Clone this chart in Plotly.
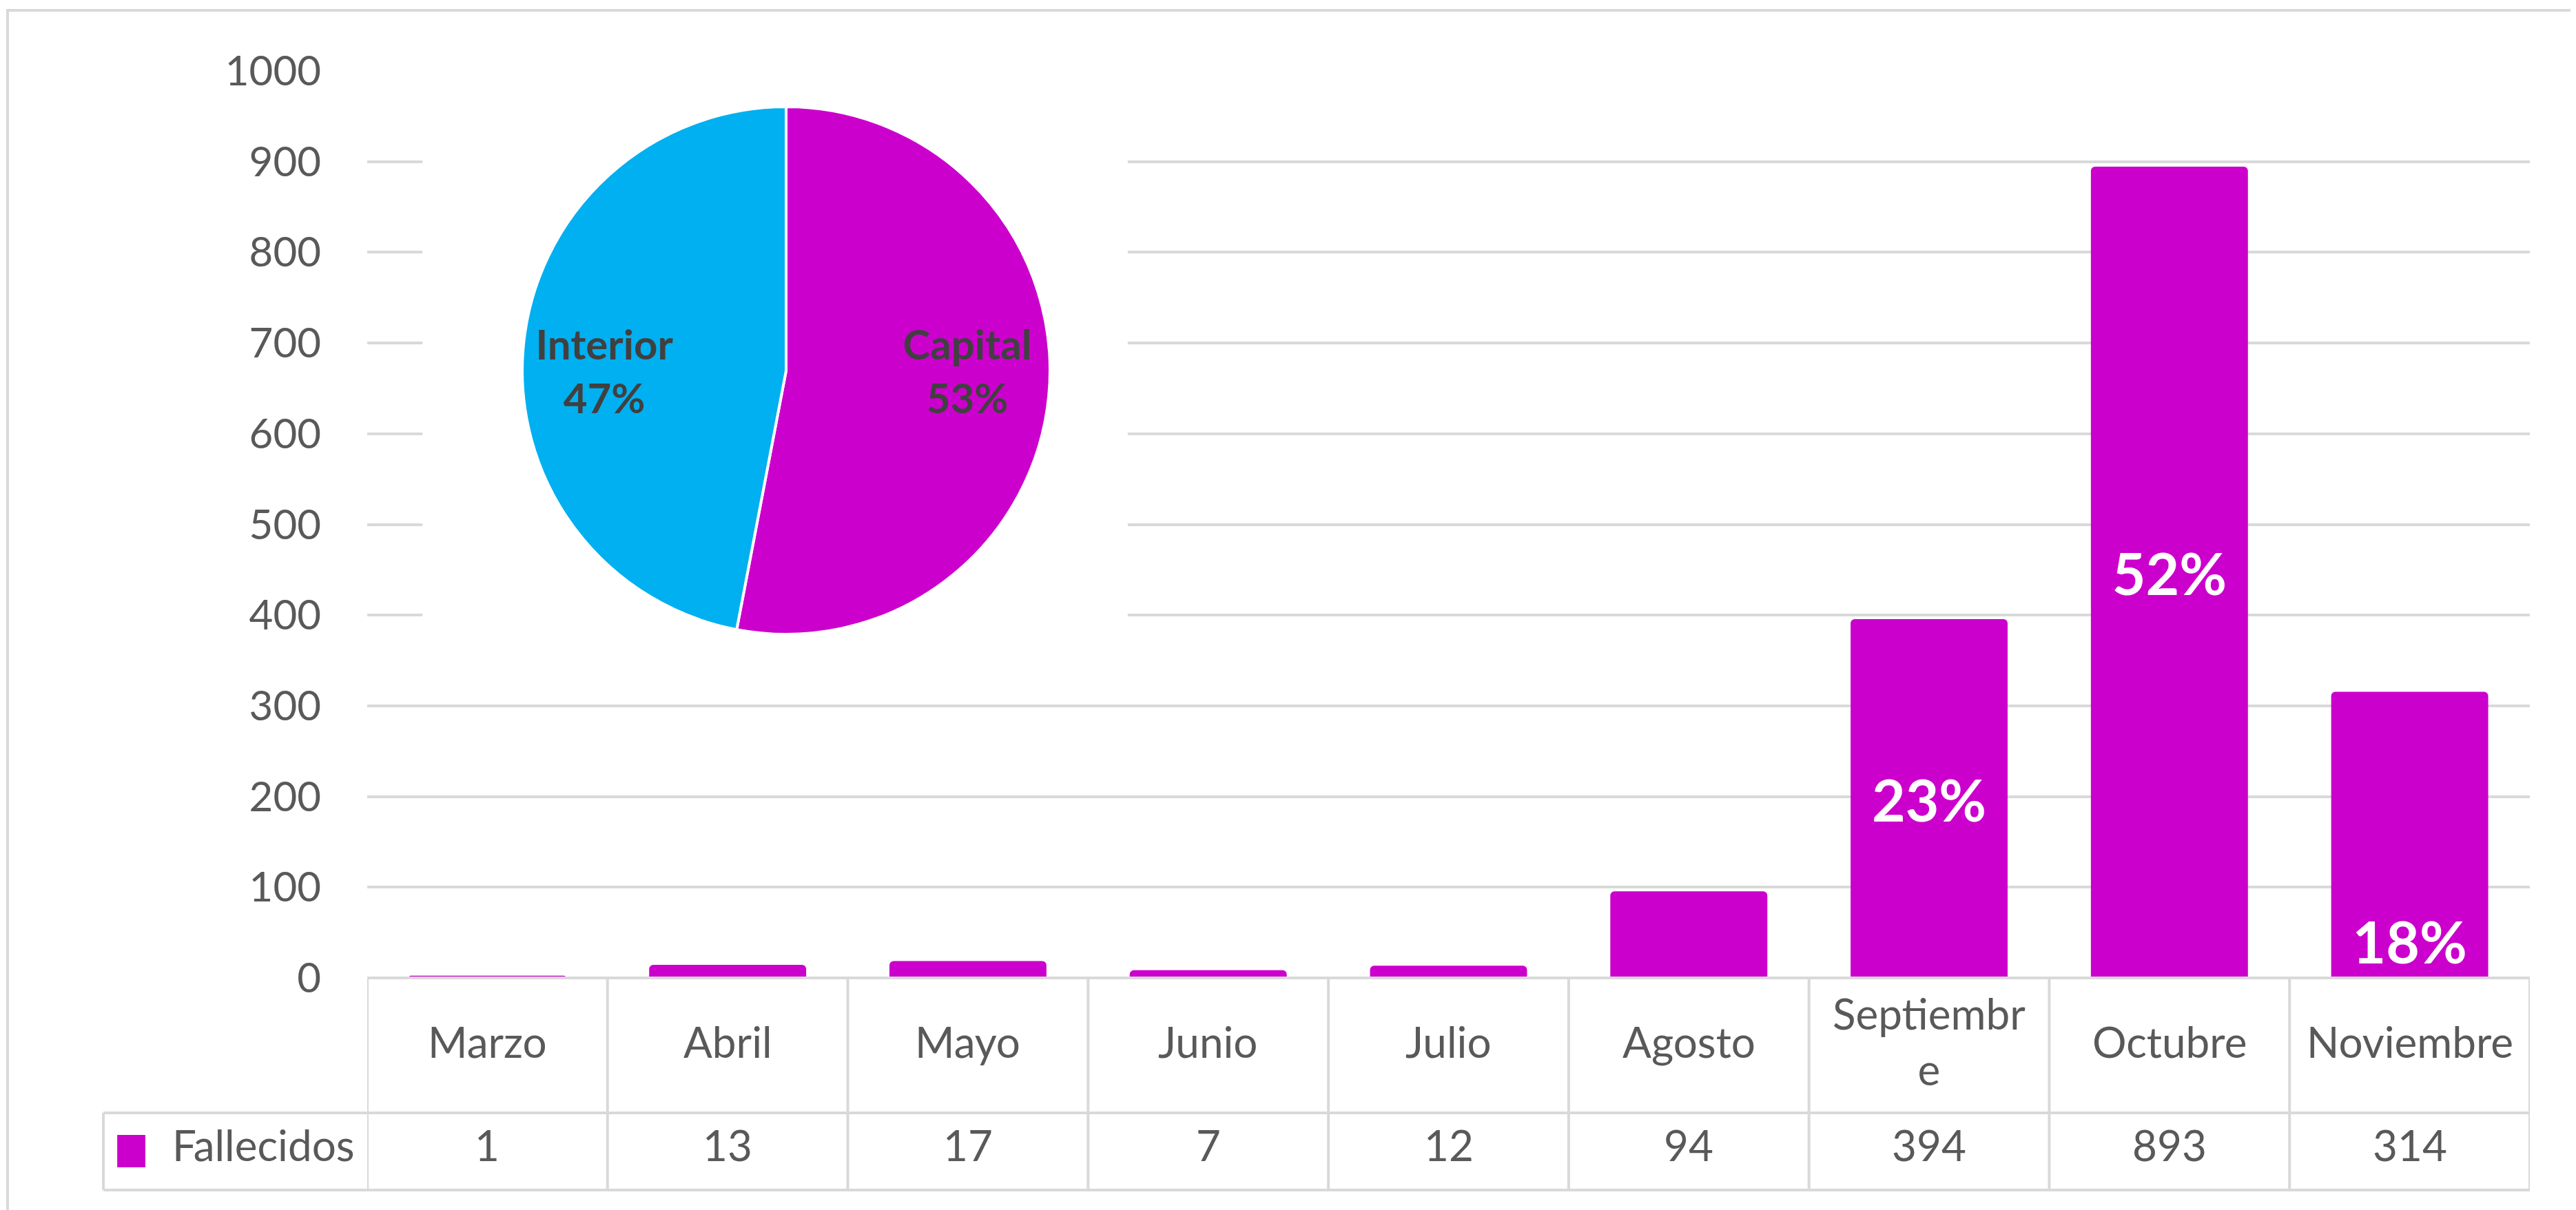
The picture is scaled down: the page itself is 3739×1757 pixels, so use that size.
import plotly.graph_objects as go

# ---- data ----
months = ["Marzo", "Abril", "Mayo", "Junio", "Julio", "Agosto", "Septiembre", "Octubre", "Noviembre"]
month_labels = ["Marzo", "Abril", "Mayo", "Junio", "Julio", "Agosto", "Septiembr<br>e", "Octubre", "Noviembre"]
fallecidos = [1, 13, 17, 7, 12, 94, 394, 893, 314]
pct_labels = ["", "", "", "", "", "", "23%", "52%", "18%"]
pct_at_base = [False, False, False, False, False, False, False, False, True]
series_name = "Fallecidos"

pie_labels = ["Capital", "Interior"]
pie_values = [53, 47]

y_ticks = [0, 100, 200, 300, 400, 500, 600, 700, 800, 900, 1000]

# ---- styles ----
MAG = "#CC00CC"
CYAN = "#00B0F0"
GRID = "#D9D9D9"
TXT = "#595959"
FONT = "Lato"
W, H = 3739, 1757
L, R, T, B = 525, 75, 95, 345
PIE_DOMAIN = dict(x=[0.0717, 0.3157], y=[0.3789, 0.9605])

fig = go.Figure()

text_mid = [t if not b else "" for t, b in zip(pct_labels, pct_at_base)]
text_base = [t if b else "" for t, b in zip(pct_labels, pct_at_base)]

fig.add_trace(go.Bar(
    x=months, y=fallecidos, name=series_name,
    marker=dict(color=MAG, line=dict(color=MAG, width=4), cornerradius=4),
    text=text_mid, textposition="inside", insidetextanchor="middle",
    textangle=0,
    textfont=dict(family=FONT, size=84, color="white", weight="bold"),
    showlegend=False, hoverinfo="x+y",
))
fig.add_trace(go.Bar(
    x=months, y=fallecidos, name=series_name,
    marker=dict(color="rgba(0,0,0,0)", line=dict(width=0)),
    text=text_base, textposition="inside", insidetextanchor="start",
    textangle=0,
    textfont=dict(family=FONT, size=84, color="white", weight="bold"),
    showlegend=False, hoverinfo="skip",
))

# pie (visual slices)
fig.add_trace(go.Pie(
    labels=pie_labels, values=pie_values,
    sort=False, direction="clockwise", rotation=0,
    marker=dict(colors=[MAG, CYAN], line=dict(color="white", width=4)),
    textinfo="none",
    domain=PIE_DOMAIN,
    showlegend=False,
))
# pie labels carried by a transparent ring so they sit further out, as in the original
fig.add_trace(go.Pie(
    labels=pie_labels, values=pie_values,
    sort=False, direction="clockwise", rotation=0, hole=0.4,
    marker=dict(colors=["rgba(0,0,0,0)", "rgba(0,0,0,0)"], line=dict(width=0)),
    textinfo="label+percent", texttemplate="%{label}<br>%{percent:.0%}",
    textposition="inside", insidetextorientation="horizontal",
    textfont=dict(family=FONT, size=60, color="#404040", weight="bold"),
    domain=PIE_DOMAIN,
    showlegend=False, hoverinfo="skip",
))

fig.update_layout(
    width=W, height=H,
    margin=dict(l=L, r=R, t=T, b=B),
    paper_bgcolor="white", plot_bgcolor="white",
    barmode="overlay", bargap=0.358,
    font=dict(family=FONT, size=62, color=TXT),
    xaxis=dict(range=[-0.5, len(months) - 0.5], showticklabels=False,
               showgrid=False, zeroline=False, showline=False, ticks=""),
    yaxis=dict(range=[0, 1000], tickvals=y_ticks, showgrid=True,
               gridcolor=GRID, gridwidth=4, zeroline=False, showline=False,
               ticks="", ticklabelstandoff=66,
               tickfont=dict(family=FONT, size=60, color=TXT)),
)

# white mask behind the pie (hides gridlines, as the embedded pie chart area does)
fig.add_shape(type="rect", xref="x", yref="y",
              x0=-0.27, x1=2.665, y0=350, y1=973,
              fillcolor="white", line=dict(width=0), layer="between")

# ---- data table ----
ln = dict(color=GRID, width=4)
y_head = -0.1488
y_bot = -0.2339
x_leg = -0.122
fig.add_shape(type="line", xref="paper", yref="paper", x0=0, x1=1, y0=0, y1=0, line=ln)
fig.add_shape(type="line", xref="paper", yref="paper", x0=x_leg, x1=1, y0=y_head, y1=y_head, line=ln)
fig.add_shape(type="line", xref="paper", yref="paper", x0=x_leg, x1=1, y0=y_bot, y1=y_bot, line=ln)
fig.add_shape(type="line", xref="paper", yref="paper", x0=x_leg, x1=x_leg, y0=y_head, y1=y_bot, line=ln)
for i in range(len(months) + 1):
    fig.add_shape(type="line", xref="x", yref="paper", x0=i - 0.5, x1=i - 0.5,
                  y0=0, y1=y_bot, line=ln)

for m, lab, v in zip(months, month_labels, fallecidos):
    fig.add_annotation(x=m, y=(0 + y_head) / 2, xref="x", yref="paper",
                       text=lab, showarrow=False, yanchor="middle", yshift=6,
                       font=dict(family=FONT, size=62, color=TXT))
    fig.add_annotation(x=m, y=(y_head + y_bot) / 2, xref="x", yref="paper",
                       text=str(v), showarrow=False, yanchor="middle", yshift=10,
                       font=dict(family=FONT, size=62, color=TXT))

# legend key in table
fig.add_shape(type="rect", xref="paper", yref="paper",
              x0=-0.1156, x1=-0.1026, y0=-0.1731, y1=-0.2088,
              fillcolor=MAG, line=dict(width=0))
fig.add_annotation(x=-0.0908, y=(y_head + y_bot) / 2, xref="paper", yref="paper",
                   text=series_name, showarrow=False, xanchor="left", yanchor="middle",
                   yshift=10, font=dict(family=FONT, size=62, color=TXT))

# outer chart border
fig.add_shape(type="rect", xref="paper", yref="paper",
              x0=-0.1663, x1=1.5, y0=-0.6, y1=1.0668,
              line=dict(color=GRID, width=4), fillcolor="rgba(0,0,0,0)", layer="below")

fig.write_html("out.html")
